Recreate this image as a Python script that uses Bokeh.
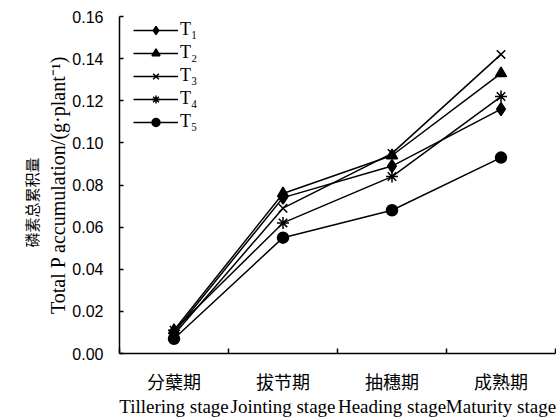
from bokeh.plotting import figure
from bokeh.models import (Range1d, LinearAxis, FixedTicker, Title, Legend,
                          NumeralTickFormatter)
from bokeh.embed import file_html
from bokeh.resources import INLINE

stages_cn = ["分蘖期", "拔节期", "抽穗期", "成熟期"]
stages_en = ["Tillering stage", "Jointing stage", "Heading stage", "Maturity stage"]
series_names = ["T₁", "T₂", "T₃", "T₄", "T₅"]
T1 = [0.010, 0.074, 0.089, 0.116]
T2 = [0.011, 0.076, 0.094, 0.133]
T3 = [0.009, 0.069, 0.095, 0.142]
T4 = [0.011, 0.062, 0.084, 0.122]
T5 = [0.007, 0.055, 0.068, 0.093]
y_ticks = [0.00, 0.02, 0.04, 0.06, 0.08, 0.10, 0.12, 0.14, 0.16]

markers = ["diamond", "triangle", "x", "asterisk", "circle"]
sizes = [13, 11, 12, 12, 11]

xs = [i + 0.5 for i in range(len(stages_cn))]
bounds = list(range(len(stages_cn) + 1))

p = figure(width=556, height=419, output_backend="svg", toolbar_location=None,
           x_range=Range1d(0, len(stages_cn)), y_range=Range1d(0, 0.16),
           min_border_left=119, min_border_right=1, min_border_top=16,
           min_border_bottom=66, x_axis_type=None)
p.frame_width = 436
p.frame_height = 337
p.outline_line_color = None
p.grid.visible = False
p.background_fill_color = "white"

sans = "Liberation Sans"
serif = "Liberation Serif"
cjk = "Noto Sans CJK SC"

# y axis
ya = p.yaxis[0]
ya.ticker = FixedTicker(ticks=y_ticks)
ya.formatter = NumeralTickFormatter(format="0.00")
ya.major_tick_in = 4
ya.major_tick_out = 0
ya.minor_tick_line_color = None
ya.axis_line_color = "black"
ya.axis_line_width = 1.5
ya.major_tick_line_width = 1.5
ya.major_label_text_font = sans
ya.major_label_text_font_size = "16px"
ya.major_label_text_color = "black"
ya.major_label_standoff = 16
ya.axis_label = "Total P accumulation/(g·plant⁻¹)"
ya.axis_label_text_font = serif
ya.axis_label_text_font_style = "normal"
ya.axis_label_text_font_size = "20px"
ya.axis_label_text_color = "black"
ya.axis_label_standoff = 0

p.add_layout(Title(text="磷素总累积量", text_font=cjk, text_font_size="15px",
                   text_font_style="normal", text_color="black", align="left",
                   standoff=5, offset=106), "left")

# x axis: boundary ticks as minor ticks, labels at category centres
xa_cn = LinearAxis(ticker=FixedTicker(ticks=xs, minor_ticks=bounds),
                   major_label_overrides={x: s for x, s in zip(xs, stages_cn)},
                   axis_line_color="black", axis_line_width=1.5,
                   major_tick_line_color=None,
                   minor_tick_in=5, minor_tick_out=0,
                   minor_tick_line_color="black", minor_tick_line_width=1.5,
                   major_label_text_font=cjk,
                   major_label_text_font_size="18px", major_label_text_color="black",
                   major_label_standoff=8)
p.add_layout(xa_cn, "below")

xa_en = LinearAxis(ticker=FixedTicker(ticks=xs),
                   major_label_overrides={x: s for x, s in zip(xs, stages_en)},
                   axis_line_color=None, major_tick_line_color=None,
                   minor_tick_line_color=None, major_label_text_font=serif,
                   major_label_text_font_size="19px", major_label_text_color="black",
                   major_label_standoff=-7)
p.add_layout(xa_en, "below")

items = []
for name, ys, m, s in zip(series_names, [T1, T2, T3, T4, T5], markers, sizes):
    r1 = p.line(xs, ys, line_color="black", line_width=1.5)
    r2 = p.scatter(xs, ys, marker=m, size=s, fill_color="black",
                   line_color="black", line_width=1.5)
    items.append((name, [r1, r2]))

legend = Legend(items=items, border_line_color=None,
                background_fill_alpha=0, label_text_font=serif,
                label_text_font_size="18px", label_text_color="black",
                glyph_width=45, glyph_height=20,
                spacing=2, padding=0, margin=0, label_standoff=2,
                label_height=20, location=(14, 221))
p.add_layout(legend, "center")

open("out.html", "w").write(file_html(p, INLINE))
